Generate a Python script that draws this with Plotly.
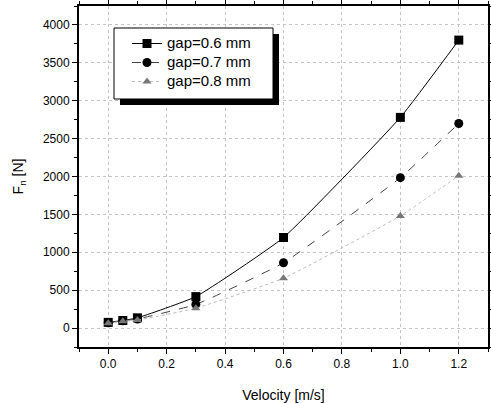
import plotly.graph_objects as go

velocity = [0.0, 0.05, 0.1, 0.3, 0.6, 1.0, 1.2]
gap06 = [75, 100, 135, 415, 1195, 2780, 3800]
gap07 = [70, 95, 120, 312, 862, 1985, 2700]
gap08 = [65, 90, 105, 262, 658, 1480, 2010]
series_names = ["gap=0.6 mm", "gap=0.7 mm", "gap=0.8 mm"]
x_ticks = [0.0, 0.2, 0.4, 0.6, 0.8, 1.0, 1.2]
x_labels = ["0.0", "0.2", "0.4", "0.6", "0.8", "1.0", "1.2"]
y_ticks = [0, 500, 1000, 1500, 2000, 2500, 3000, 3500, 4000]

def lbl(s):
    return '<span style="font-size:15px">' + s + '</span>'

fig = go.Figure()
fig.add_trace(go.Scatter(x=velocity, y=gap06, name=lbl(series_names[0]), mode="lines+markers",
                         line=dict(color="black", width=1, shape="spline", smoothing=0.4),
                         marker=dict(symbol="square", size=9, color="black")))
fig.add_trace(go.Scatter(x=velocity, y=gap07, name=lbl(series_names[1]), mode="lines+markers",
                         line=dict(color="#444444", width=1, dash="dash", shape="spline", smoothing=0.4),
                         marker=dict(symbol="circle", size=9, color="black")))
fig.add_trace(go.Scatter(x=velocity, y=gap08, name=lbl(series_names[2]), mode="lines+markers",
                         line=dict(color="#bbbbbb", width=1, dash="dot", shape="spline", smoothing=0.4),
                         marker=dict(symbol="triangle-up", size=8, color="#777777")))

L, R, T, B = 79, 3, 6, 56
W, H = 491, 403
pw, ph = W - L - R, H - T - B

def px2paper(x, y):
    return (x - L) / pw, (H - B - y) / ph

# legend shadow and box
sx0, sy1 = px2paper(120, 34)
sx1, sy0 = px2paper(279, 105)
fig.add_shape(type="rect", xref="paper", yref="paper", x0=sx0, x1=sx1, y0=sy0, y1=sy1,
              fillcolor="black", line=dict(width=0), layer="above")
bx0, by1 = px2paper(114, 28)
bx1, by0 = px2paper(273, 99)
fig.add_shape(type="rect", xref="paper", yref="paper", x0=bx0, x1=bx1, y0=by0, y1=by1,
              fillcolor="white", line=dict(width=1, color="black"), layer="above")

lx, ly = px2paper(127, 29)
axis_common = dict(showline=True, linecolor="black", linewidth=2, mirror="ticks",
                   ticks="outside", ticklen=5, tickwidth=1.2, tickcolor="black",
                   showgrid=True, gridcolor="#c4c4c4", griddash="dot", gridwidth=1,
                   zeroline=False, automargin=False,
                   tickfont=dict(family="Liberation Sans, Arial", size=12, color="black"))
fig.update_layout(
    width=W, height=H,
    margin=dict(l=L, r=R, t=T, b=B),
    plot_bgcolor="white", paper_bgcolor="white",
    font=dict(family="Liberation Sans, Arial", size=12, color="black"),
    xaxis=dict(range=[-0.1, 1.3], tickvals=x_ticks, ticktext=x_labels,
               minor=dict(ticks="outside", ticklen=3, tickcolor="black", dtick=0.1, showgrid=False),
               title=dict(text="Velocity [m/s]", font=dict(size=14), standoff=23),
               **axis_common),
    yaxis=dict(range=[-250, 4250], tickvals=y_ticks,
               minor=dict(ticks="outside", ticklen=3, tickcolor="black", dtick=250, showgrid=False),
               title=dict(text="F<sub>n</sub> [N]", font=dict(size=14), standoff=16),
               **axis_common),
    legend=dict(x=lx, y=ly, xanchor="left", yanchor="top", bgcolor="rgba(0,0,0,0)",
                borderwidth=0, font=dict(size=11), tracegroupgap=0, itemwidth=30),
    showlegend=True,
)
fig.write_html("out.html")
